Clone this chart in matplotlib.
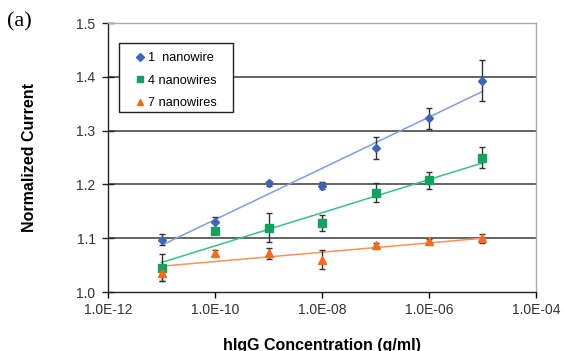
import matplotlib.pyplot as plt
import matplotlib.ticker as mticker
from matplotlib.patches import Rectangle

plt.rcParams['font.family'] = ['Liberation Sans', 'DejaVu Sans']

# data
conc = [1e-11, 1e-10, 1e-9, 1e-8, 1e-7, 1e-6, 1e-5]
series_names = ['1  nanowire', '4 nanowires', '7 nanowires']
nw1 = [1.097, 1.130, 1.202, 1.198, 1.268, 1.323, 1.393]
nw1_err = [0.010, 0.010, 0.005, 0.007, 0.020, 0.020, 0.038]
nw4 = [1.045, 1.113, 1.120, 1.128, 1.185, 1.208, 1.250]
nw4_err = [0.025, 0.003, 0.027, 0.015, 0.018, 0.016, 0.020]
nw7 = [1.035, 1.073, 1.072, 1.060, 1.087, 1.095, 1.100]
nw7_err = [0.015, 0.005, 0.010, 0.018, 0.005, 0.003, 0.008]
# trendline end points
trend_x = [1e-11, 1e-5]
trend1 = [1.087, 1.373]
trend4 = [1.055, 1.240]
trend7 = [1.048, 1.100]

xticks = [1e-12, 1e-10, 1e-8, 1e-6, 1e-4]
xticklabels = ['1.0E-12', '1.0E-10', '1.0E-08', '1.0E-06', '1.0E-04']
yticks = [1.0, 1.1, 1.2, 1.3, 1.4, 1.5]

fig = plt.figure(figsize=(5.63, 3.51), dpi=100)
ax = fig.add_axes([0.192, 0.168, 0.760, 0.766])

for yv in yticks[1:-1]:
    ax.axhline(yv, color='#3a3a3a', lw=1.1, zorder=1)

styles = [
    (nw1, nw1_err, trend1, '#3d67b5', '#7f9edb', 'D', 4.5, 4),
    (nw4, nw4_err, trend4, '#16a060', '#3cbf86', 's', 6, 5),
    (nw7, nw7_err, trend7, '#f26b22', '#f8915a', '^', 6, 5),
]
handles = []
for (vals, err, trend, mc, lc, mk, ms, lms), name in zip(styles, series_names):
    ax.plot(trend_x, trend, color=lc, lw=1.1, zorder=2)
    ax.errorbar(conc, vals, yerr=err, fmt='none', ecolor='#333333',
                elinewidth=1.0, capsize=2.5, capthick=1.0, zorder=3)
    ax.plot(conc, vals, ls='none', marker=mk, ms=ms, color=mc,
            markeredgecolor=mc, zorder=4)
    h, = ax.plot([], [], ls='none', marker=mk, ms=lms, color=mc, label=name)
    handles.append(h)

ax.set_xscale('log')
ax.set_xlim(1e-12, 1e-4)
ax.set_ylim(1.0, 1.5)
ax.set_xticks(xticks)
ax.set_xticklabels(xticklabels)
ax.xaxis.set_minor_locator(mticker.NullLocator())
ax.set_yticks(yticks)
ax.set_yticklabels(['%.1f' % v for v in yticks])
ax.tick_params(axis='y', direction='inout', length=8, width=1, labelsize=10,
               colors='#222222', labelcolor='#333333', pad=5)
ax.tick_params(axis='x', direction='out', length=4, width=1, labelsize=10,
               labelcolor='#333333', pad=4)

for s in ['top', 'right']:
    ax.spines[s].set_color('#aaaaaa')
    ax.spines[s].set_linewidth(1.0)
for s in ['left', 'bottom']:
    ax.spines[s].set_color('#222222')
    ax.spines[s].set_linewidth(1.0)

ax.set_xlabel('hIgG Concentration (g/ml)', fontsize=11.5, fontweight='bold',
              labelpad=15)
ax.set_ylabel('Normalized Current', fontsize=11.5, fontweight='bold',
              labelpad=28)

# legend box
ax.add_patch(Rectangle((0.026, 0.669), 0.266, 0.257, transform=ax.transAxes,
                       facecolor='white', edgecolor='#222222', lw=1.0,
                       zorder=5))
leg = ax.legend(handles=handles, loc='upper left',
                bbox_to_anchor=(0.026, 0.914), fontsize=9.2, frameon=False,
                handlelength=2.4, handletextpad=-0.6, borderpad=0.45,
                labelspacing=0.83, borderaxespad=0)
leg.set_zorder(6)

fig.text(0.012, 0.925, '(a)', fontsize=16, family='Liberation Serif')

fig.savefig('out.png', dpi=100)
